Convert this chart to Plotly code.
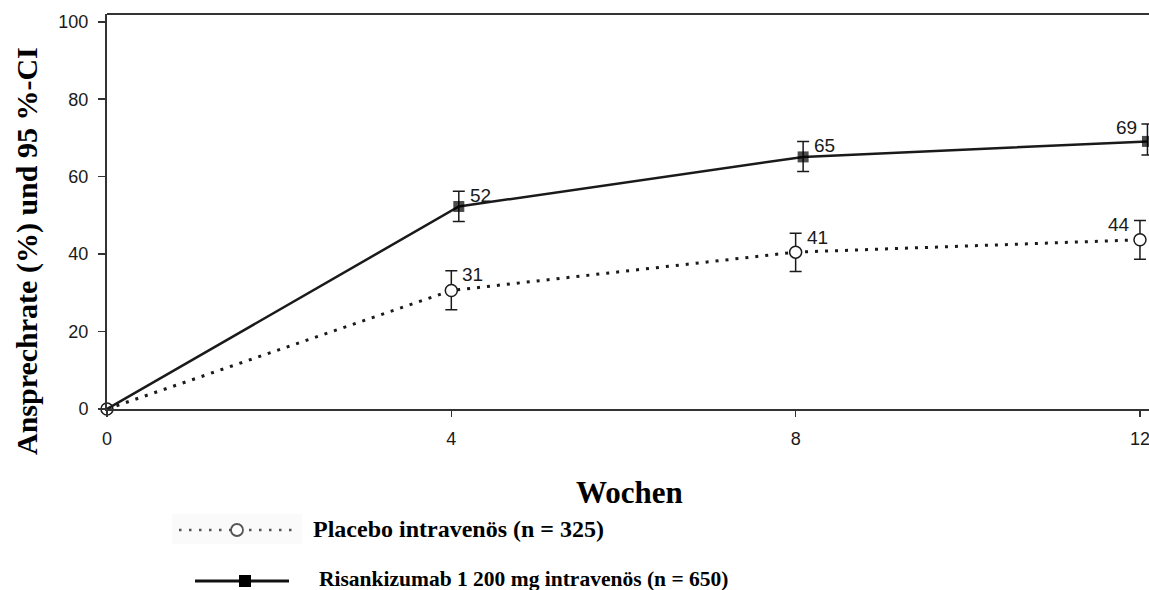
import plotly.graph_objects as go

# ---------------- data ----------------
weeks = [0, 4, 8, 12]
week_ticks = [0, 4, 8, 12]
y_ticks = [0, 20, 40, 60, 80, 100]

placebo_name = "Placebo intravenös (n = 325)"
placebo_rate = [0, 30.6, 40.5, 43.7]
placebo_lo = [None, 25.6, 35.5, 38.7]
placebo_hi = [None, 35.7, 45.4, 48.7]
placebo_lbl = ["", "31", "41", "44"]

risa_name = "Risankizumab 1 200 mg intravenös (n = 650)"
risa_rate = [0, 52.3, 65.1, 69.1]
risa_lo = [None, 48.4, 61.3, 65.6]
risa_hi = [None, 56.2, 69.1, 73.6]
risa_lbl = ["", "52", "65", "69"]

x_title = "Wochen"
y_title = "Ansprechrate (%) und 95 %-CI"

# ---------------- layout constants ----------------
W, H = 1149, 590
ML, MT, MB, MR = 107, 14, 181, 0
PW, PH = W - ML - MR, H - MT - MB
X_RANGE = [0, 12.105]
Y_RANGE = [0, 102]
DODGE = 0.087  # horizontal offset of Risankizumab points (weeks)

SANS = "Liberation Sans, Arial, sans-serif"
SERIF = "Liberation Serif, Times New Roman, serif"
INK = "#1a1a1a"


def px_x(px):
    return (px - ML) / PW


def px_y(py):
    return (H - MB - py) / PH


def plus(v, hi):
    return [None if h is None else h - a for a, h in zip(v, hi)]


def minus(v, lo):
    return [None if l is None else a - l for a, l in zip(v, lo)]


risa_x = [w + (DODGE if w > 0 else 0) for w in weeks]

fig = go.Figure()

fig.add_trace(go.Scatter(
    x=weeks, y=placebo_rate, name=placebo_name, mode="lines+markers",
    line=dict(color=INK, width=3, dash="3px,7px"),
    marker=dict(symbol="circle", size=12, color="white",
                line=dict(color=INK, width=1.5)),
    error_y=dict(type="data", symmetric=False,
                 array=plus(placebo_rate, placebo_hi),
                 arrayminus=minus(placebo_rate, placebo_lo),
                 color=INK, thickness=1.5, width=6),
    cliponaxis=False, showlegend=False, hoverinfo="skip",
))

fig.add_trace(go.Scatter(
    x=risa_x, y=risa_rate, name=risa_name, mode="lines+markers",
    line=dict(color=INK, width=2.5),
    marker=dict(symbol="square", size=[0, 11, 11, 11], color="#000",
                line=dict(width=0)),
    error_y=dict(type="data", symmetric=False,
                 array=plus(risa_rate, risa_hi),
                 arrayminus=minus(risa_rate, risa_lo),
                 color=INK, thickness=1.5, width=6),
    cliponaxis=False, showlegend=False, hoverinfo="skip",
))

annotations = []
# value labels
for xs, hi, lbls in ((weeks, placebo_hi, placebo_lbl), (risa_x, risa_hi, risa_lbl)):
    for i, (x, h, t) in enumerate(zip(xs, hi, lbls)):
        if not t:
            continue
        last = i == len(xs) - 1
        annotations.append(dict(
            x=x, y=h, xref="x", yref="y", text=t, showarrow=False,
            xanchor="right" if last else "left", yanchor="middle",
            xshift=-8 if last else 9, yshift=-4,
            font=dict(family=SANS, size=19, color=INK),
        ))

# axis titles
annotations.append(dict(
    x=px_x(27), y=px_y(251), xref="paper", yref="paper", text=f"<b>{y_title}</b>",
    textangle=-90, showarrow=False, xanchor="center", yanchor="middle",
    font=dict(family=SERIF, size=30, color="#000"),
))
annotations.append(dict(
    x=px_x(629), y=px_y(492), xref="paper", yref="paper", text=f"<b>{x_title}</b>",
    showarrow=False, xanchor="center", yanchor="middle",
    font=dict(family=SERIF, size=31, color="#000"),
))

# legend texts
annotations.append(dict(
    x=px_x(311), y=px_y(529), xref="paper", yref="paper", text=f"<b>{placebo_name}</b>",
    showarrow=False, xanchor="left", yanchor="middle",
    font=dict(family=SERIF, size=24, color="#000"),
))
annotations.append(dict(
    x=px_x(317), y=px_y(579), xref="paper", yref="paper", text=f"<b>{risa_name}</b>",
    showarrow=False, xanchor="left", yanchor="middle",
    font=dict(family=SERIF, size=21.5, color="#000"),
))

# legend symbols (drawn as shapes)
shapes = [
    dict(type="rect", xref="paper", yref="paper",
         x0=px_x(172), x1=px_x(302), y0=px_y(514), y1=px_y(544),
         line=dict(width=0), fillcolor="#fafafa", layer="below"),
    dict(type="line", xref="paper", yref="paper",
         x0=px_x(179), x1=px_x(296), y0=px_y(530), y1=px_y(530),
         line=dict(color="#555", width=2.5, dash="2.5px,7.5px")),
    dict(type="circle", xref="paper", yref="paper",
         x0=px_x(231), x1=px_x(243), y0=px_y(524), y1=px_y(536),
         line=dict(color="#555", width=1.8), fillcolor="white"),
    dict(type="line", xref="paper", yref="paper",
         x0=px_x(195), x1=px_x(289), y0=px_y(581), y1=px_y(581),
         line=dict(color="#111", width=3)),
    dict(type="rect", xref="paper", yref="paper",
         x0=px_x(239), x1=px_x(251), y0=px_y(575), y1=px_y(587),
         line=dict(width=0), fillcolor="#000"),
    # top frame line
    dict(type="line", xref="paper", yref="paper", x0=0, x1=1, y0=1, y1=1,
         line=dict(color="#333", width=2)),
]

fig.update_layout(
    width=W, height=H,
    margin=dict(l=ML, r=MR, t=MT, b=MB, pad=0),
    paper_bgcolor="white", plot_bgcolor="white",
    showlegend=False,
    annotations=annotations,
    shapes=shapes,
    xaxis=dict(
        range=X_RANGE, tickmode="array", tickvals=week_ticks,
        ticktext=[str(t) for t in week_ticks],
        showgrid=False, zeroline=False, showline=True, linecolor="#333", linewidth=2,
        ticks="outside", ticklen=6, tickwidth=1.5, tickcolor="#333",
        tickfont=dict(family=SANS, size=18, color=INK),
        ticklabelstandoff=6, ticklabeloverflow="allow",
    ),
    yaxis=dict(
        range=Y_RANGE, tickmode="array", tickvals=y_ticks,
        ticktext=[str(t) for t in y_ticks],
        showgrid=False, zeroline=False, showline=True, linecolor="#333", linewidth=2,
        ticks="outside", ticklen=7, tickwidth=1.5, tickcolor="#333",
        tickfont=dict(family=SANS, size=18, color=INK),
        ticklabelstandoff=6,
    ),
)

fig.write_html(
    "out.html",
    config={"displayModeBar": False, "staticPlot": True},
    post_script="document.body.style.margin='0';document.body.style.overflow='hidden';",
)
